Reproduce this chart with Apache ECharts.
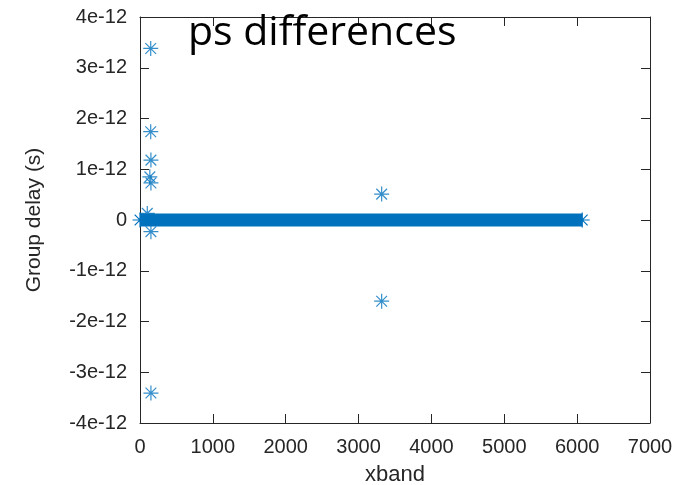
<!DOCTYPE html>
<html><head><meta charset="utf-8">
<script src="https://cdn.jsdelivr.net/npm/echarts@6/dist/echarts.min.js"></script>
<style>html,body{margin:0;padding:0;background:#fff}#c{width:685px;height:485px}</style>
</head><body><div id="c"></div>
<script>
// Data (group delay in picoseconds; tick labels shown as e-12 seconds)
const bandStartEnd = [0, 6070];          // dense run of zero-valued points along xband
const outlierX = [147, 147, 150, 135, 150, 100, 150, 150, 3317, 3317];
const outlierY = [3.38, 1.74, 1.18, 0.85, 0.73, 0.13, -0.23, -3.41, 0.51, -1.60];
const xTicks = [0, 1000, 2000, 3000, 4000, 5000, 6000, 7000];
const yTicks = [-4, -3, -2, -1, 0, 1, 2, 3, 4];

const blue = '#0072BD';
const axisCol = '#262626';
const star = 'path://M0,7L14,7M7,0L7,14M2,2L12,12M2,12L12,2';
const chart = echarts.init(document.getElementById('c'));
const tickStyle = {show:true, inside:true, length:9, lineStyle:{color:axisCol,width:1}};
const font = 'Liberation Sans, Arial, sans-serif';
chart.setOption({
  animation:false,
  backgroundColor:'#fff',
  title:{text:'ps differences', left:183, top:8, z:10,
    textStyle:{fontFamily:'Open Sans, sans-serif', fontSize:41, fontWeight:'normal', color:'#000'}},
  grid:{left:140, right:35, top:17, bottom:62, containLabel:false, outerBoundsMode:'none'},
  xAxis:[{type:'value', min:xTicks[0], max:xTicks[xTicks.length-1], interval:1000,
    name:'xband', nameLocation:'middle', nameGap:41,
    nameTextStyle:{fontFamily:font, fontSize:22, color:axisCol},
    axisLine:{show:true, onZero:false, lineStyle:{color:axisCol}}, axisTick:tickStyle, splitLine:{show:false},
    axisLabel:{fontFamily:font, fontSize:20, color:axisCol, margin:14, formatter:v=>String(v)}},
   {type:'value', position:'top', min:xTicks[0], max:xTicks[xTicks.length-1], interval:1000,
    axisLine:{show:true, onZero:false, lineStyle:{color:axisCol}}, axisTick:tickStyle,
    axisLabel:{show:false}, splitLine:{show:false}}],
  yAxis:[{type:'value', min:yTicks[0], max:yTicks[yTicks.length-1], interval:1,
    name:'Group delay (s)', nameLocation:'middle', nameGap:95,
    nameTextStyle:{fontFamily:font, fontSize:21, color:axisCol},
    axisLine:{show:true, onZero:false, lineStyle:{color:axisCol}}, axisTick:tickStyle, splitLine:{show:false},
    axisLabel:{fontFamily:font, fontSize:20, color:axisCol, margin:13, padding:[4,0,0,0],
      formatter:v=> v===0 ? '0' : (Math.round(v)+'e-12')}},
   {type:'value', position:'right', min:yTicks[0], max:yTicks[yTicks.length-1], interval:1,
    axisLine:{show:true, onZero:false, lineStyle:{color:axisCol}}, axisTick:tickStyle,
    axisLabel:{show:false}, splitLine:{show:false}}],
  series:[
    {type:'line', data:bandStartEnd.map(x=>[x,0]), symbol:star, symbolSize:15, showAllSymbol:true,
     lineStyle:{color:blue, width:13, cap:'butt'},
     itemStyle:{color:'transparent', borderColor:blue, borderWidth:1.2}},
    {type:'scatter', data:outlierX.map((x,i)=>[x,outlierY[i]]), symbol:star, symbolSize:15,
     itemStyle:{color:'transparent', borderColor:blue, borderWidth:1.2}}
  ]
});
</script></body></html>
